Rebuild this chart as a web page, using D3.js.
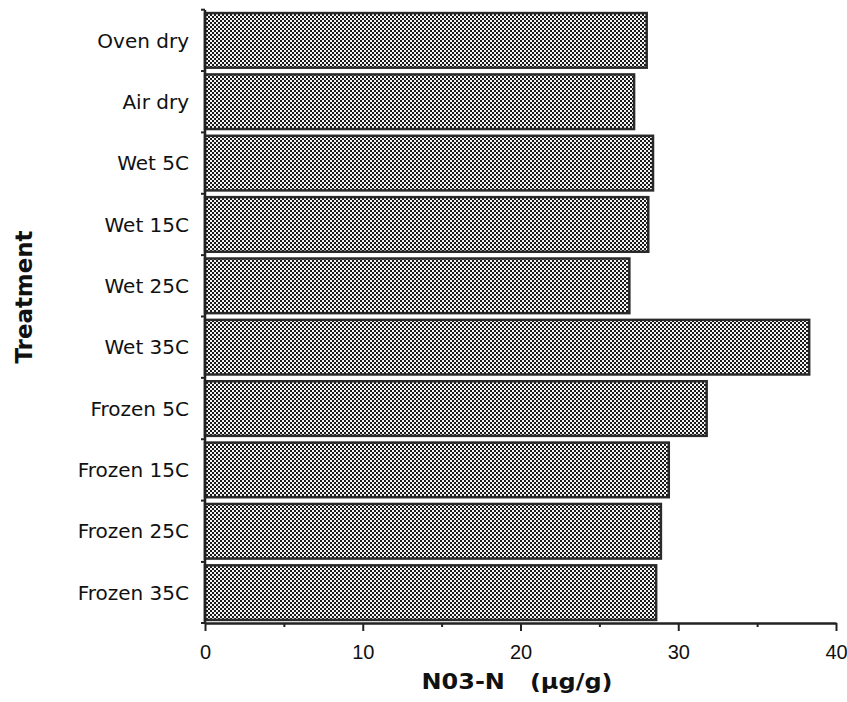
<!DOCTYPE html>
<html>
<head>
<meta charset="utf-8">
<script src="https://cdn.jsdelivr.net/npm/d3@7"></script>
<style>
  body { margin: 0; background: #fff; }
  svg { display: block; font-family: "Liberation Sans", Arial, sans-serif; }
</style>
</head>
<body>
<div id="chart"></div>
<script>
// treatments, top to bottom
const treatments = ["Oven dry", "Air dry", "Wet 5C", "Wet 15C", "Wet 25C", "Wet 35C",
  "Frozen 5C", "Frozen 15C", "Frozen 25C", "Frozen 35C"];
// NO3-N values (ug/g)
const no3 = [28.0, 27.2, 28.4, 28.1, 26.9, 38.3, 31.8, 29.4, 28.9, 28.6];
const majorTicks = [0, 10, 20, 30, 40];
const minorTicks = [5, 15, 25, 35];

const width = 847, height = 702;
const margin = { top: 10, right: 11, bottom: 79, left: 205 };
const wideFont = "'DejaVu Sans', Verdana, sans-serif";

const svg = d3.select("#chart")
  .append("svg")
  .attr("width", width)
  .attr("height", height);

// checker fill like the old halftone
const pat = svg.append("defs").append("pattern")
  .attr("id", "checker")
  .attr("width", 4).attr("height", 4)
  .attr("patternUnits", "userSpaceOnUse");
pat.append("rect").attr("width", 4).attr("height", 4).attr("fill", "#f4f4f4");
pat.append("rect").attr("width", 2).attr("height", 2).attr("fill", "#1a1a1a");
pat.append("rect").attr("x", 2).attr("y", 2).attr("width", 2).attr("height", 2).attr("fill", "#1a1a1a");

const x = d3.scaleLinear()
  .domain([0, 40])
  .range([margin.left, width - margin.right]);

const y = d3.scaleBand()
  .domain(treatments)
  .range([margin.top, height - margin.bottom])
  .paddingInner(0.11)
  .paddingOuter(0.05);

const data = treatments.map((t, i) => ({ label: t, value: no3[i] }));

// bars
svg.selectAll(".bar")
  .data(data)
  .enter()
  .append("rect")
  .attr("class", "bar")
  .attr("x", x(0))
  .attr("y", d => y(d.label))
  .attr("width", d => x(d.value) - x(0))
  .attr("height", y.bandwidth())
  .attr("fill", "url(#checker)")
  .attr("stroke", "#2a2a2a")
  .attr("stroke-width", 2.5);

const axisY = height - margin.bottom;

// x axis: major ticks labelled, minor ticks short
const xAxis = svg.append("g")
  .attr("transform", `translate(0,${axisY})`)
  .call(d3.axisBottom(x).tickValues(majorTicks).tickSize(8).tickPadding(14).tickSizeOuter(0));
xAxis.select(".domain").attr("stroke", "#222").attr("stroke-width", 2.5);
xAxis.selectAll(".tick line").attr("stroke", "#222").attr("stroke-width", 2);
xAxis.selectAll(".tick text")
  .attr("font-size", 20)
  .attr("fill", "#111");

svg.append("g")
  .attr("transform", `translate(0,${axisY})`)
  .call(d3.axisBottom(x).tickValues(minorTicks).tickSize(4).tickFormat("").tickSizeOuter(0))
  .call(g => g.select(".domain").remove())
  .selectAll(".tick line").attr("stroke", "#222").attr("stroke-width", 2);

// y axis: ticks sit at band boundaries
const bounds = treatments.map(t => y(t) - y.step() * y.paddingInner() / 2);
bounds.push(axisY);
const yAxis = svg.append("g");
yAxis.append("line")
  .attr("x1", x(0)).attr("x2", x(0))
  .attr("y1", margin.top).attr("y2", axisY)
  .attr("stroke", "#222").attr("stroke-width", 2.5);
yAxis.selectAll(".ytick")
  .data(bounds)
  .enter()
  .append("line")
  .attr("x1", x(0) - 4).attr("x2", x(0))
  .attr("y1", d => d).attr("y2", d => d)
  .attr("stroke", "#222").attr("stroke-width", 2);

// category labels
svg.selectAll(".ylabel")
  .data(data)
  .enter()
  .append("text")
  .attr("x", x(0) - 16)
  .attr("y", d => y(d.label) + y.bandwidth() / 2)
  .attr("dy", "0.36em")
  .attr("text-anchor", "end")
  .attr("font-family", wideFont)
  .attr("font-size", 20)
  .attr("fill", "#111")
  .text(d => d.label);

// axis titles
svg.append("text")
  .attr("transform", `translate(32,297) rotate(-90)`)
  .attr("text-anchor", "middle")
  .attr("font-family", wideFont)
  .attr("font-size", 23)
  .attr("font-weight", "bold")
  .attr("fill", "#111")
  .attr("textLength", 133)
  .attr("lengthAdjust", "spacingAndGlyphs")
  .text("Treatment");

svg.append("text")
  .attr("x", 517)
  .attr("y", 689)
  .attr("text-anchor", "middle")
  .attr("font-family", wideFont)
  .attr("font-size", 22)
  .attr("font-weight", "bold")
  .attr("fill", "#111")
  .attr("xml:space", "preserve")
  .attr("textLength", 191)
  .attr("lengthAdjust", "spacingAndGlyphs")
  .text("N03-N   (\u00b5g/g)");
</script>
</body>
</html>
